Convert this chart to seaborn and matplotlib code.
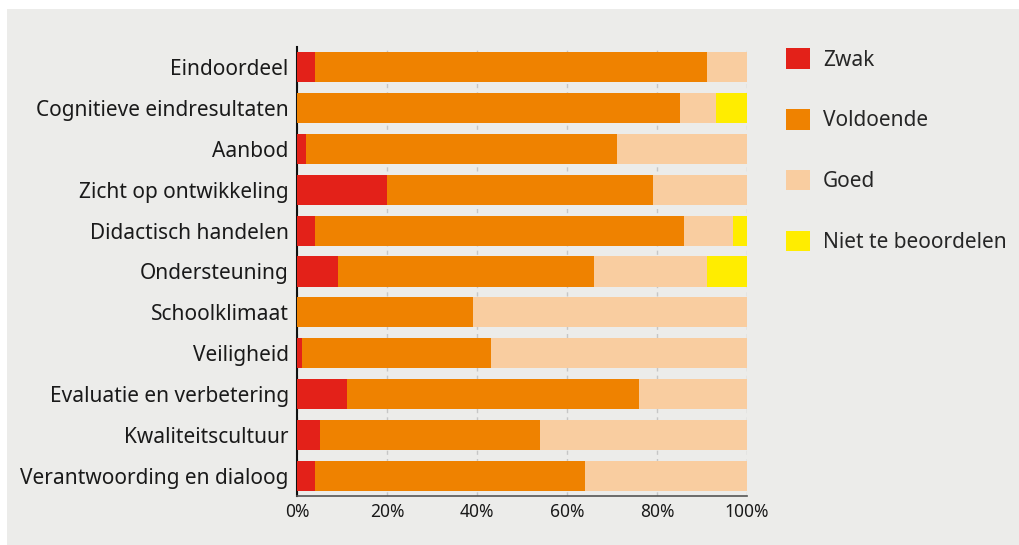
import matplotlib
matplotlib.use("Agg")
import matplotlib.pyplot as plt
import matplotlib.patches as mpatches
import numpy as np
import pandas as pd
import seaborn as sns

categories = [
    "Eindoordeel",
    "Cognitieve eindresultaten",
    "Aanbod",
    "Zicht op ontwikkeling",
    "Didactisch handelen",
    "Ondersteuning",
    "Schoolklimaat",
    "Veiligheid",
    "Evaluatie en verbetering",
    "Kwaliteitscultuur",
    "Verantwoording en dialoog",
]
zwak = [4, 0, 2, 20, 4, 9, 0, 1, 11, 5, 4]
voldoende = [87, 85, 69, 59, 82, 57, 39, 42, 65, 49, 60]
goed = [9, 8, 29, 21, 11, 25, 61, 57, 24, 46, 36]
niet = [0, 7, 0, 0, 3, 9, 0, 0, 0, 0, 0]

series = ["Zwak", "Voldoende", "Goed", "Niet te beoordelen"]
colors = ["#e32119", "#ef8200", "#f9cda0", "#ffed00"]

df = pd.DataFrame({"categorie": categories, "Zwak": zwak, "Voldoende": voldoende,
                   "Goed": goed, "Niet te beoordelen": niet})
cum = df[series].cumsum(axis=1)

sns.set_style("white")
plt.rcParams["font.family"] = ["Noto Sans", "DejaVu Sans"]

fig = plt.figure(figsize=(10.19, 5.45), dpi=100)
fig.patch.set_facecolor("white")
fig.patches.append(mpatches.Rectangle((7 / 1019, 0), 1 - 7 / 1019, 1 - 9 / 545,
                                      transform=fig.transFigure, facecolor="#ececea",
                                      edgecolor="none", zorder=-10))

ax = fig.add_axes([297 / 1019, 1 - 496 / 545, 450 / 1019, 449 / 545])
ax.set_facecolor("none")

# stacked bars: draw cumulative totals from the back to the front
for name, color in reversed(list(zip(series, colors))):
    sns.barplot(x=cum[name], y=df["categorie"], orient="h", color=color,
                width=0.735, ax=ax, zorder=3, saturation=1, linewidth=0,
                edgecolor="none")

ax.set_xlim(0, 100)
ax.set_ylim(10.5, -0.5)
ax.set_xticks([0, 20, 40, 60, 80, 100])
ax.set_xticklabels(["0%", "20%", "40%", "60%", "80%", "100%"], fontsize=12.5)
ax.tick_params(axis="y", labelsize=15, length=0, pad=6, colors="#1a1a1a")
ax.tick_params(axis="x", length=0, pad=5, colors="#1a1a1a")
ax.set_xlabel("")
ax.set_ylabel("")
ax.grid(axis="x", linestyle=(0, (3, 3)), color="#c6c6c6", linewidth=1, zorder=0)
ax.set_axisbelow(True)

for side in ["top", "right"]:
    ax.spines[side].set_visible(False)
ax.spines["left"].set_color("#111111")
ax.spines["left"].set_linewidth(1.5)
ax.spines["bottom"].set_color("#555555")
ax.spines["bottom"].set_linewidth(1.2)

handles = [mpatches.Patch(facecolor=c, edgecolor="none", label=s) for s, c in zip(series, colors)]
fig.legend(handles=handles, loc="upper left", bbox_to_anchor=(778 / 1019, 1 - 40 / 545),
           frameon=False, fontsize=15, handlelength=1.15, handleheight=1.15,
           handletextpad=0.62, labelspacing=1.84, borderaxespad=0)

fig.savefig("out.png", dpi=100)
